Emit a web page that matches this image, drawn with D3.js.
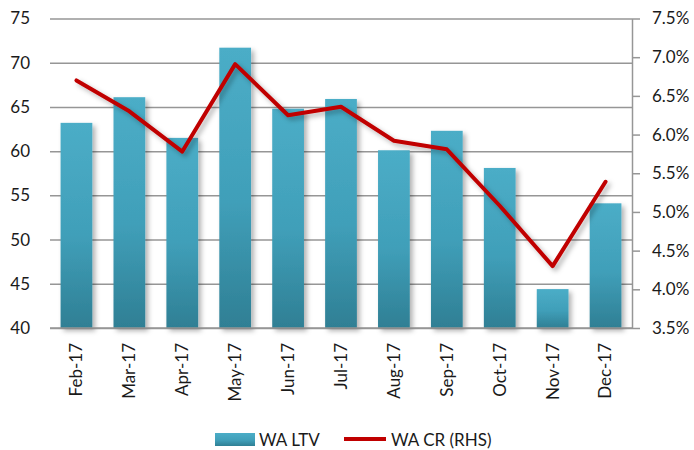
<!DOCTYPE html>
<html>
<head>
<meta charset="utf-8">
<script src="https://cdn.jsdelivr.net/npm/d3@7"></script>
<style>
  body { margin: 0; background: #fff; }
  svg { display: block; font-family: Lato, "Open Sans", sans-serif; }
</style>
</head>
<body>
<svg id="chart"></svg>
<script>
const months = ['Feb-17', 'Mar-17', 'Apr-17', 'May-17', 'Jun-17', 'Jul-17', 'Aug-17', 'Sep-17', 'Oct-17', 'Nov-17', 'Dec-17']
const waLtv = [63.2, 66.1, 61.5, 71.7, 64.8, 65.9, 60.1, 62.3, 58.1, 44.4, 54.1]
const waCr = [6.70, 6.30, 5.78, 6.91, 6.25, 6.36, 5.92, 5.81, 5.08, 4.30, 5.39]
const leftTicks = [40, 45, 50, 55, 60, 65, 70, 75]
const rightTicks = [3.5, 4.0, 4.5, 5.0, 5.5, 6.0, 6.5, 7.0, 7.5]

const width = 694
const height = 450
const marginTop = 18.5
const marginBottom = 122
const marginLeft = 50
const marginRight = 62
const txtColor = '#1a1a1a'
const gridColor = '#969696'

const svg = d3.select('#chart')
  .attr('width', width)
  .attr('height', height)
  .attr('viewBox', [0, 0, width, height])

// gradient + shadow
const defs = svg.append('defs')
const grad = defs.append('linearGradient')
  .attr('id', 'barGrad')
  .attr('x1', 0).attr('y1', 0).attr('x2', 0).attr('y2', 1)
grad.append('stop').attr('offset', '0%').attr('stop-color', '#4badc7')
grad.append('stop').attr('offset', '55%').attr('stop-color', '#409fb9')
grad.append('stop').attr('offset', '100%').attr('stop-color', '#2f7f94')

const shadow = defs.append('filter')
  .attr('id', 'shadow')
  .attr('x', '-20%').attr('y', '-20%').attr('width', '160%').attr('height', '140%')
shadow.append('feDropShadow')
  .attr('dx', 3).attr('dy', 3).attr('stdDeviation', 2.5)
  .attr('flood-color', '#000').attr('flood-opacity', 0.3)

const x = d3.scaleBand()
  .domain(months)
  .range([marginLeft, width - marginRight])
  .paddingInner(0.4)
  .paddingOuter(0.2)

const yLeft = d3.scaleLinear()
  .domain([40, 75])
  .range([height - marginBottom, marginTop])

const yRight = d3.scaleLinear()
  .domain([3.5, 7.5])
  .range([height - marginBottom, marginTop])

// left axis with gridlines
svg.append('g')
  .attr('transform', `translate(${marginLeft},0)`)
  .call(d3.axisLeft(yLeft).tickValues(leftTicks).tickSize(-(width - marginLeft - marginRight)).tickPadding(20))
  .call(g => g.select('.domain').remove())
  .call(g => g.selectAll('.tick line').attr('stroke', gridColor).attr('stroke-width', 1.5))
  .call(g => g.selectAll('.tick text')
    .attr('fill', txtColor)
    .attr('font-size', 17)
    .attr('font-family', 'Lato, "Open Sans", sans-serif'))

// bars
svg.append('g')
  .selectAll('rect')
  .data(months)
  .join('rect')
    .attr('x', d => x(d))
    .attr('y', (d, i) => yLeft(waLtv[i]))
    .attr('width', x.bandwidth())
    .attr('height', (d, i) => yLeft(40) - yLeft(waLtv[i]))
    .attr('fill', 'url(#barGrad)')
    .attr('filter', 'url(#shadow)')

// baseline redraw over bars
svg.append('line')
  .attr('x1', marginLeft).attr('x2', width - marginRight)
  .attr('y1', yLeft(40)).attr('y2', yLeft(40))
  .attr('stroke', gridColor).attr('stroke-width', 1.5)

// right axis
svg.append('g')
  .attr('transform', `translate(${width - marginRight},0)`)
  .call(d3.axisRight(yRight).tickValues(rightTicks).tickSize(8).tickSizeOuter(0).tickPadding(12)
    .tickFormat(d => d.toFixed(1) + '%'))
  .call(g => g.select('.domain').attr('stroke', gridColor).attr('stroke-width', 1.5))
  .call(g => g.selectAll('.tick line').attr('stroke', gridColor).attr('stroke-width', 1.5))
  .call(g => g.selectAll('.tick text')
    .attr('fill', txtColor)
    .attr('font-size', 17)
    .attr('font-family', 'Lato, "Open Sans", sans-serif'))

// x labels
svg.append('g')
  .attr('transform', `translate(0,${height - marginBottom})`)
  .call(d3.axisBottom(x).tickSize(0).tickPadding(0))
  .call(g => g.select('.domain').remove())
  .call(g => g.selectAll('.tick text')
    .attr('fill', txtColor)
    .attr('font-size', 17)
    .attr('font-family', 'Lato, "Open Sans", sans-serif')
    .attr('text-anchor', 'end')
    .attr('dy', '0.35em')
    .attr('transform', 'translate(0,15) rotate(-90)'))

// line
const line = d3.line()
  .x((d, i) => x(months[i]) + x.bandwidth() / 2)
  .y(d => yRight(d))

svg.append('path')
  .datum(waCr)
  .attr('fill', 'none')
  .attr('stroke', '#c00000')
  .attr('stroke-width', 4)
  .attr('stroke-linejoin', 'round')
  .attr('stroke-linecap', 'round')
  .attr('filter', 'url(#shadow)')
  .attr('d', line)

// legend
const legend = svg.append('g').attr('font-size', 17).attr('fill', txtColor)
legend.append('rect')
  .attr('x', 215).attr('y', 433).attr('width', 40).attr('height', 13)
  .attr('fill', 'url(#barGrad)')
legend.append('text')
  .attr('x', 259).attr('y', 440).attr('dy', '0.35em')
  .text('WA LTV')
legend.append('line')
  .attr('x1', 344).attr('x2', 386).attr('y1', 439).attr('y2', 439)
  .attr('stroke', '#c00000').attr('stroke-width', 4)
legend.append('text')
  .attr('x', 391).attr('y', 440).attr('dy', '0.35em')
  .text('WA CR (RHS)')
</script>
</body>
</html>
